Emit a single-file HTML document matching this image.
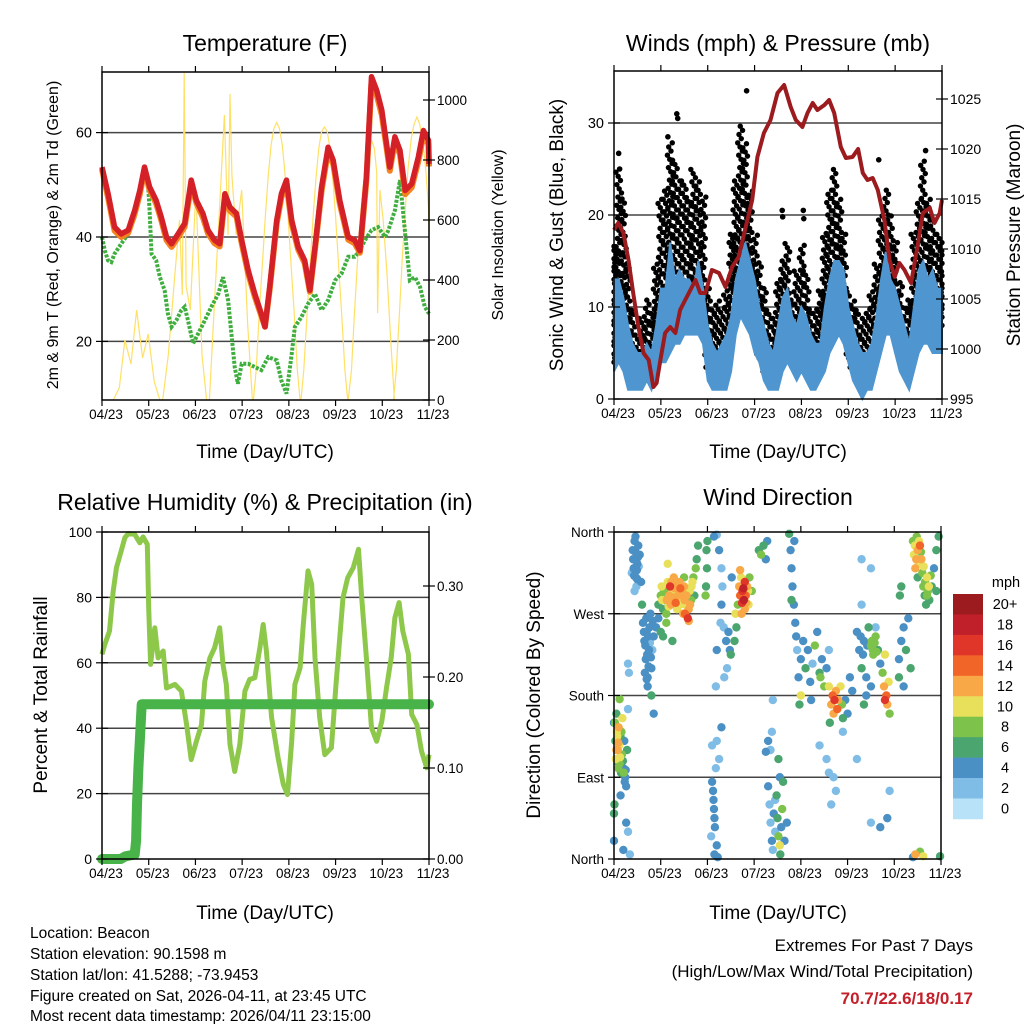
<!DOCTYPE html>
<html><head><meta charset="utf-8"><style>
html,body{margin:0;padding:0;background:#fff;}
svg{display:block;font-family:"Liberation Sans",sans-serif;}
</style></head><body>
<svg id="chart" width="1024" height="1024" viewBox="0 0 1024 1024">
<rect x="0" y="0" width="1024" height="1024" fill="#fff"/>
<g id="layer"></g>
<g font-size="23" text-anchor="middle" fill="#000">
<text x="265" y="51">Temperature (F)</text>
<text x="778" y="51">Winds (mph) &amp; Pressure (mb)</text>
<text x="265" y="510">Relative Humidity (%) &amp; Precipitation (in)</text>
<text x="778" y="505">Wind Direction</text>
</g>
<g font-size="19" text-anchor="middle">
<text x="265" y="458">Time (Day/UTC)</text>
<text x="778" y="458">Time (Day/UTC)</text>
<text x="265" y="919">Time (Day/UTC)</text>
<text x="778" y="919">Time (Day/UTC)</text>
<text transform="translate(58,235) rotate(-90)" font-size="16">2m &amp; 9m T (Red, Orange) &amp; 2m Td (Green)</text>
<text transform="translate(503,235) rotate(-90)" font-size="16">Solar Insolation (Yellow)</text>
<text transform="translate(563,235) rotate(-90)">Sonic Wind &amp; Gust (Blue, Black)</text>
<text transform="translate(1020,235) rotate(-90)">Station Pressure (Maroon)</text>
<text transform="translate(47,695) rotate(-90)">Percent &amp; Total Rainfall</text>
<text transform="translate(540,695) rotate(-90)">Direction (Colored By Speed)</text>
</g>
<g font-size="15.5">
<text x="30" y="938">Location: Beacon</text>
<text x="30" y="959">Station elevation: 90.1598 m</text>
<text x="30" y="980">Station lat/lon: 41.5288; -73.9453</text>
<text x="30" y="1001">Figure created on Sat, 2026-04-11, at 23:45 UTC</text>
<text x="30" y="1021">Most recent data timestamp: 2026/04/11 23:15:00</text>
</g>
<g font-size="17" text-anchor="end">
<text x="973" y="951">Extremes For Past 7 Days</text>
<text x="973" y="977">(High/Low/Max Wind/Total Precipitation)</text>
<text x="973" y="1004" font-weight="bold" fill="#c4202a">70.7/22.6/18/0.17</text>
</g>
</svg>
<script>
const xTickDays=[0,1,2,3,4,5,6,7];
const xTickLabels=['04/23','05/23','06/23','07/23','08/23','09/23','10/23','11/23'];
const tempTicks=[20,40,60];
const solarTicks=[0,200,400,600,800,1000];
const windTicks=[0,10,20,30];
const pressTicks=[995,1000,1005,1010,1015,1020,1025];
const rhTicks=[0,20,40,60,80,100];
const precipTicks=[0,0.1,0.2,0.3];
const precipTickLabels=['0.00','0.10','0.20','0.30'];
const dirTicks=[0,90,180,270,360];
const dirTickLabels=['North','East','South','West','North'];
const speedBins=[0,2,4,6,8,10,12,14,16,18,20];
const speedLabels=['0','2','4','6','8','10','12','14','16','18','20+'];
const speedColors=['#b7e2f8','#80bde6','#4a90c4','#4aa56e','#7dc24b','#e8e05a','#f9a848','#f26529','#e0362a','#c0202a','#9b1b1e'];

const tempDays=[0,.13,.27,.41,.56,.7,.81,.91,1.02,1.16,1.27,1.38,1.49,1.63,1.77,1.91,2.02,2.16,2.27,2.41,2.52,2.63,2.74,2.88,2.99,3.13,3.27,3.41,3.49,3.59,3.74,3.84,3.95,4.06,4.2,4.34,4.45,4.56,4.7,4.84,4.95,5.09,5.27,5.41,5.52,5.66,5.77,5.88,5.99,6.09,6.16,6.27,6.38,6.49,6.63,6.77,6.88,6.99,7];
const temp2m=[53.4,48.3,41.9,40.6,41.3,45.1,48.9,53.4,49.6,47,43.8,40,38.7,40.6,42.6,50.9,47,44.5,41.3,39.4,38.7,48.3,45.7,44.5,39.4,33.6,29.1,25.3,22.8,30.4,43.2,48.3,50.9,43.2,38.1,35.5,29.8,38.1,49.6,57.2,54.7,47,40,39.4,37.4,51.5,70.7,68.1,64.3,57.9,53.4,59.2,56.6,48.9,50.2,55.3,60.4,58.5,54];
const temp9m=[53,47.5,41.2,40,40.8,44.5,48.2,52.8,49,46.4,43.2,39.4,38.1,40,42,50.1,46.5,43.8,40.7,38.8,38.2,47.5,45,43.9,38.8,33,28.6,24.9,22.8,30,42.6,47.6,50.1,42.6,37.6,35,29.5,37.6,48.9,56.5,54,46.4,39.5,38.8,37,50.8,69.6,67.2,63.4,57.2,52.7,58.4,55.8,48.2,49.5,54.5,59.5,57.8,53.5];
const dewDays=[0,.06,.13,.2,.27,.41,.56,.7,.81,.91,.99,1.02,1.06,1.16,1.24,1.34,1.41,1.49,1.59,1.7,1.77,1.84,1.95,2.06,2.2,2.34,2.49,2.59,2.7,2.77,2.84,2.91,2.99,3.13,3.27,3.41,3.56,3.74,3.84,3.95,4.06,4.13,4.27,4.41,4.56,4.7,4.84,4.99,5.13,5.27,5.41,5.52,5.63,5.77,5.91,6.06,6.13,6.27,6.38,6.49,6.59,6.7,6.81,6.91,7];
const dewpoint=[40,37.4,35.5,35.2,36.8,38.7,40.6,43.8,48.3,52.1,49.6,45.1,36.8,35.5,32.3,29.8,25.3,22.8,24,26,26.6,24,19.6,21.5,24,26.6,29.1,32.3,27.9,21.5,15.1,11.9,15.7,15.7,15.1,14.5,17,16.4,12.5,10,17.6,22.8,24.7,27.2,29.1,26,27.9,31.7,33,36.2,36.2,37.4,39.4,41.3,41.9,40,41.3,45.1,50.9,40.6,31.7,32.3,30.4,26.6,25.3];
const solarDays=[.24,.37,.49,.62,.74,.87,.99,1.12,1.24, 1.3,1.42,1.55,1.66,1.72,1.76,1.8,1.89,2.01,2.14,2.24, 2.3,2.4,2.52,2.62,2.7,2.74,2.78,2.87,2.99,3.12,3.22, 3.24,3.3,3.37,3.44,3.5,3.56,3.62,3.68,3.74,3.8,3.86,3.92,3.98,4.04,4.11,4.18,4.24, 4.26,4.32,4.39,4.46,4.52,4.58,4.64,4.7,4.76,4.82,4.88,4.94,5.0,5.06,5.13,5.2,5.26, 5.27,5.34,5.4,5.46,5.52,5.59,5.65,5.71,5.77,5.83,5.88,5.9,5.95,6.02,6.1,6.18,6.26, 6.24,6.3,6.37,6.43,6.49,6.55,6.62,6.68,6.74,6.8,6.87,6.93,6.99,7];
const solarValues=[0,40,200,120,300,140,220,60,0, 0,150,400,600,350,1090,380,300,700,150,0, 0,300,650,950,550,1020,750,550,700,250,0, 0,100,300,470,620,750,850,905,925,905,850,750,620,470,300,100,0, 0,100,290,460,610,740,840,895,910,895,840,740,610,460,290,100,0, 0,100,280,440,590,710,800,850,865,840,760,290,700,600,420,200,0, 0,100,300,480,630,770,870,920,943,920,860,770,640,560];

const windDays=[0,.1,.2,.3,.4,.5,.6,.7,.8,.9,1,1.1,1.2,1.3,1.4,1.5,1.6,1.7,1.8,1.9,2,2.1,2.2,2.3,2.4,2.5,2.6,2.7,2.8,2.9,3,3.1,3.2,3.3,3.4,3.5,3.6,3.7,3.8,3.9,4,4.1,4.2,4.3,4.4,4.5,4.6,4.7,4.8,4.9,5,5.1,5.2,5.3,5.4,5.5,5.6,5.7,5.8,5.9,6,6.1,6.2,6.3,6.4,6.5,6.6,6.7,6.8,6.9,7];
const windLow=[3,4,3,1,1,1,1,2,1,3,4,4,5,6,6,7,7,7,7,6,2,1,1,1,1,3,7,9,8,7,5,4,2,1,1,1,3,4,3,2,3,2,1,1,2,3,5,6,7,6,4,2,1,0,1,1,3,5,7,7,5,3,2,1,3,5,6,6,5,5,5];
const windHigh=[13,13,11,8,6,5,5,6,5,8,12,12,17,13,14,13,13,12,15,12,8,6,5,6,7,9,13,15,17,15,13,10,8,6,5,8,11,12,9,8,10,9,7,6,6,10,13,15,15,14,10,8,6,5,5,6,9,13,16,13,12,10,8,6,10,14,15,13,14,12,12];
const gustLow=[4,8,6,3,2,2,2,4,3,7,10,10,13,12,12,12,12,11,11,8,3,2,3,4,5,8,12,13,12,10,7,4,3,2,2,4,6,7,4,4,5,4,3,3,5,9,11,11,10,8,4,3,2,2,3,4,7,10,11,10,8,5,4,4,8,10,11,10,8,8,8];
const gustHigh=[17,25,22,15,10,7,9,11,10,15,22,23,28,26,24,24,22,25,24,22,12,10,11,10,12,18,24,30,28,23,18,15,12,10,9,13,15,17,11,14,17,14,10,10,12,18,23,25,22,18,12,11,10,9,10,12,15,20,23,20,17,13,10,11,18,22,26,22,20,18,17];
const gustOutlierDays=[1.34,1.36,0.1,2.83,3.59,3.6,4.04,4.05,1.15,5.65,6.65,0.12];
const gustOutliers=[31,30.5,26.7,33.5,20.5,19.8,20.5,19.6,28.5,26,27,25];
const pressDays=[0,.09,.2,.31,.41,.52,.63,.74,.84,.91,.99,1.09,1.2,1.31,1.41,1.52,1.63,1.74,1.84,1.95,2.09,2.24,2.38,2.52,2.66,2.81,2.95,3.06,3.2,3.34,3.49,3.63,3.77,3.88,4.02,4.13,4.24,4.34,4.49,4.59,4.7,4.84,4.95,5.09,5.21,5.31,5.41,5.52,5.63,5.77,5.88,5.99,6.09,6.2,6.34,6.49,6.59,6.74,6.84,6.95,7];
const pressure=[1011.9,1012.6,1011.6,1008.9,1005.6,1002.2,999.6,998.9,996.2,996.6,998.9,1001.6,1002.2,1001.6,1003.9,1004.9,1005.9,1006.9,1005.6,1005.6,1007.9,1007.6,1006.2,1008.2,1009.2,1012.2,1014.9,1019.2,1021.6,1022.9,1025.6,1026.4,1024.2,1022.9,1022.2,1023.6,1024.6,1023.9,1024.4,1024.9,1023.6,1020.2,1019.1,1019.2,1020,1017.6,1016.9,1017.1,1015.9,1012.9,1008.9,1007.2,1008.6,1007.9,1006.6,1010.6,1013.6,1014.1,1012.6,1013.6,1014.9];

const rhDays=[0,.06,.16,.24,.31,.41,.49,.56,.7,.81,.88,.97,1,1.04,1.13,1.2,1.31,1.38,1.56,1.7,1.81,1.91,2.02,2.13,2.2,2.31,2.41,2.52,2.59,2.66,2.74,2.84,2.95,3.06,3.16,3.27,3.38,3.45,3.52,3.63,3.77,3.88,3.97,4.06,4.13,4.24,4.31,4.41,4.49,4.56,4.66,4.77,4.91,5.01,5.16,5.26,5.38,5.49,5.56,5.66,5.77,5.88,5.99,6.09,6.19,6.27,6.36,6.44,6.56,6.63,6.74,6.84,6.95,7];
const rhValues=[62.6,65.6,69.7,81.9,89.1,94.2,98.3,99.5,99.3,96.7,98.5,96.2,76.8,59.5,70.7,61.5,63.6,52.3,53.4,51.3,41.1,30.4,36,41.1,54.4,61.5,64.6,70.7,59.5,53.4,35,26.8,35,51.3,54.9,55.4,64.6,71.7,63.6,43.2,30.9,22.8,19.7,36,53.4,58.5,71.7,88.1,84,61.5,43.2,31.9,34,53.4,79.9,86,89.1,94.7,79.9,61.5,40.1,36,42.1,52.3,61.5,73.8,78.4,69.7,62.6,44.2,41.1,33,27.9,31.9];
const precipDays=[0,0.4,0.5,0.7,0.73,0.75,0.78,0.82,0.85,7];
const precipValues=[0,0,0.003,0.005,0.02,0.06,0.1,0.14,0.17,0.17];

const dirPoints=[[0.02,150,8],[0.03,130,6],[0.04,110,10],[0.05,160,6],[0.06,140,10],[0.08,120,12],[0.09,100,8],[0.1,145,12],[0.11,125,10],[0.12,105,8],[0.14,135,6],[0.15,95,6],[0.17,115,8],[0.18,155,10],[0.2,100,4],[0.22,130,4],[0.24,90,4],[0.26,80,4],[0.28,120,6],[0.3,165,2],[0.0,50,6],[0.0,20,4],[0.01,60,6],[0.14,70,4],[0.3,30,2],[0.34,5,2],[0.2,10,4],[0.26,40,4],[0.12,176,8],[0.0,150,4],
[0.05,120,12],[0.07,135,10],[0.09,128,12],[0.13,112,10],[0.16,140,8],[0.19,108,6],[0.21,95,8],[0.23,85,4],[0.25,98,4],[0.1,105,6],
[0.4,340,4],[0.42,320,4],[0.44,350,4],[0.45,330,4],[0.47,310,4],[0.5,325,4],[0.52,345,4],[0.48,300,2],[0.55,335,4],[0.38,315,2],[0.58,305,4],[0.44,295,2],
[0.41,330,4],[0.43,312,4],[0.46,338,4],[0.49,318,4],[0.51,332,4],[0.53,322,2],[0.46,355,4],[0.5,308,4],
[0.62,260,4],[0.65,240,4],[0.68,220,4],[0.7,250,4],[0.72,200,4],[0.75,230,4],[0.78,270,4],[0.8,210,4],[0.85,245,4],[0.9,255,4],[0.95,265,4],[0.72,190,4],[0.3,215,2],[0.32,205,2],[0.6,280,6],[0.82,230,2],[0.8,180,6],[0.85,160,4],
[0.64,250,4],[0.67,235,4],[0.69,265,4],[0.71,225,4],[0.73,245,4],[0.74,212,4],[0.76,255,4],[0.77,238,2],[0.79,222,4],[0.83,262,4],[0.66,205,4],[0.7,198,4],
[0.95,280,6],[1.0,290,8],[1.02,300,10],[1.05,275,6],[1.08,285,8],[1.1,295,6],[1.12,270,8],[1.15,305,10],[1.18,290,12],[1.2,300,16],[1.22,280,12],[1.25,295,10],[1.28,310,12],[1.3,285,10],[1.33,300,8],[1.35,275,10],[1.38,290,12],[1.4,305,12],[1.43,285,10],[1.45,295,8],[1.48,270,12],[1.5,300,12],[1.53,280,10],[1.55,290,12],[1.58,265,16],[1.6,275,12],[1.62,295,10],[1.65,285,8],[1.68,305,10],[1.7,310,8],[1.72,290,6],[1.75,320,8],[1.77,330,6],[1.8,345,6],[1.0,250,6],[1.05,245,6],[1.12,260,8],[1.15,325,10],[1.25,240,6],[1.32,282,14],[1.42,298,14],[1.52,270,14],[1.6,262,12],
[1.03,285,10],[1.07,295,8],[1.13,285,12],[1.17,278,10],[1.23,305,12],[1.27,288,12],[1.37,298,10],[1.41,280,10],[1.47,292,12],[1.51,285,12],[1.57,278,10],[1.63,280,12],[1.66,300,10],[1.5,310,8],[1.3,298,12],
[1.98,340,6],[1.99,320,6],[2.0,350,6],[1.97,300,6],[1.96,290,8],
[2.14,355,4],[2.2,357,2],[2.25,340,4],[2.3,320,2],[2.32,300,2],[2.3,280,4],[2.35,255,2],[2.4,240,4],[2.45,250,4],[2.48,230,4],[2.5,225,6],[2.42,210,2],[2.36,200,2],[2.52,310,4],[2.28,260,2],[2.2,230,4],[2.18,190,2],
[2.1,85,4],[2.12,75,4],[2.13,65,4],[2.14,55,4],[2.15,45,4],[2.16,35,4],[2.08,25,2],[2.2,15,4],[2.15,5,4],[2.22,2,4],[2.18,100,2],[2.1,125,2],[2.2,130,2],[2.25,110,2],[2.3,145,4],
[2.6,270,10],[2.65,280,8],[2.68,300,12],[2.7,290,14],[2.72,310,10],[2.75,295,16],[2.78,285,18],[2.8,305,16],[2.82,290,14],[2.85,300,12],[2.88,280,10],[2.9,310,8],[2.95,295,8],[2.62,255,6],[2.58,240,6],[2.7,318,12],[2.8,275,12],
[2.74,282,16],[2.77,298,18],[2.83,282,12],[2.87,295,10],[2.73,270,12],
[3.1,340,6],[3.15,335,8],[3.2,345,6],[3.25,330,4],[3.28,350,4],
[3.3,80,4],[3.33,60,2],[3.35,40,2],[3.38,20,4],[3.4,10,2],[3.42,50,4],[3.45,30,2],[3.48,70,6],[3.5,45,6],[3.52,25,8],[3.55,15,10],[3.56,5,6],[3.58,35,4],[3.6,55,8],[3.62,85,6],[3.65,20,4],[3.7,40,4],[3.3,130,4],[3.35,120,2],[3.38,140,2],[3.25,118,4],[3.4,175,2],[3.52,110,6],[3.55,90,4],[3.45,65,2],
[3.75,358,6],[3.78,340,4],[3.8,320,4],[3.82,300,4],[3.85,280,4],[3.88,260,4],[3.9,245,4],[3.92,230,2],[3.8,285,6],[3.86,350,4],
[3.95,200,4],[4.0,220,4],[4.05,240,4],[4.1,210,6],[4.15,230,4],[4.2,195,4],[4.25,215,2],[4.3,235,8],[4.35,250,4],[4.4,205,6],[4.45,220,4],[4.5,190,8],[4.55,210,4],[4.6,230,2],[4.0,180,10],[3.97,170,6],[4.22,175,4],[4.42,200,8],
[4.6,190,10],[4.65,170,12],[4.68,180,14],[4.7,160,12],[4.72,175,16],[4.75,185,12],[4.78,165,14],[4.8,175,12],[4.85,190,10],[4.88,170,8],[4.62,150,6],[4.9,155,6],[4.95,175,4],[5.0,160,4],[5.05,200,4],[5.1,185,4],
[4.4,125,2],[4.55,110,2],[4.6,95,2],[4.65,60,2],[4.7,90,2],[4.75,75,2],[4.9,140,2],[5.2,110,2],[5.5,40,2],[5.7,35,4],[5.9,75,2],[5.3,280,2],[5.3,330,2],[5.5,320,2],[5.85,45,4],
[5.2,250,4],[5.25,230,4],[5.3,210,6],[5.35,240,4],[5.4,200,4],[5.45,255,6],[5.5,235,8],[5.55,225,8],[5.6,245,8],[5.65,230,6],[5.7,215,4],[5.5,190,4],[5.4,180,4],[5.35,170,6],[5.6,255,2],
[5.52,240,8],[5.54,230,8],[5.58,238,8],[5.62,228,8],[5.28,245,4],[5.33,225,4],[5.42,235,4],
[5.78,190,12],[5.8,175,16],[5.83,180,14],[5.85,170,12],[5.88,195,10],[5.9,160,8],[5.75,205,8],[5.8,225,10],
[6.1,220,4],[6.15,240,4],[6.2,255,4],[6.25,230,6],[6.3,265,4],[6.35,210,6],[6.1,200,6],[6.2,190,4],[6.15,300,6],[6.12,290,6],
[6.4,350,8],[6.42,335,10],[6.45,320,12],[6.48,355,8],[6.5,340,12],[6.52,325,10],[6.55,345,14],[6.58,330,12],[6.6,315,8],[6.62,300,8],[6.65,290,6],[6.68,280,6],[6.7,310,10],[6.72,295,8],[6.75,285,6],[6.8,300,6],[6.85,320,4],[6.9,340,6],[6.95,355,6],[6.5,310,6],[6.9,295,6],[6.45,5,12],[6.55,8,8],[6.62,3,10],[6.4,2,4],[6.98,3,6],
[6.44,345,10],[6.47,330,12],[6.53,350,10],[6.57,338,8],[6.63,322,10],[6.66,305,8],[6.7,290,8],[6.74,300,10],[6.78,312,8]];

const NS='http://www.w3.org/2000/svg';
const layer=document.getElementById('layer');
function el(tag,parent){const e=document.createElementNS(NS,tag);(parent||layer).appendChild(e);return e;}
function lin(d0,d1,r0,r1){return v=>r0+(v-d0)/(d1-d0)*(r1-r0);}

const P1={x0:102,x1:429,y0:72,y1:400};
const P2={x0:614,x1:942,y0:71,y1:399};
const P3={x0:102,x1:429,y0:532,y1:859};
const P4={x0:614,x1:941,y0:532,y1:859};
const x1s=lin(0,7,P1.x0,P1.x1), x2s=lin(0,7,P2.x0,P2.x1), x3s=lin(0,7,P3.x0,P3.x1), x4s=lin(0,7,P4.x0,P4.x1);
const tempY=lin(40,60,237,132.6), solarY=lin(0,1000,400,100);
const windY=lin(0,10,399,307), pressY=lin(995,1025,399,99);
const rhY=lin(0,100,859,532), precipY=lin(0,0.1,859,768);
const dirY=lin(0,360,859,532);

function poly(xs,ys,xf,yf){return xs.map((d,i)=>xf(d).toFixed(1)+','+yf(ys[i]).toFixed(1)).join(' ');}

function grid(P,vals,yf,name){
  vals.forEach(v=>{const y=yf(v); if(y<=P.y0+1||y>=P.y1-1) return;
    const l=el('line'); l.setAttribute('x1',P.x0); l.setAttribute('x2',P.x1); l.setAttribute('y1',y); l.setAttribute('y2',y);
    l.setAttribute('stroke','#444'); l.setAttribute('stroke-width','1.5');
     });
}
function frame(P,xs,name){
  const r=el('rect'); r.setAttribute('x',P.x0); r.setAttribute('y',P.y0); r.setAttribute('width',P.x1-P.x0); r.setAttribute('height',P.y1-P.y0);
  r.setAttribute('fill','none'); r.setAttribute('stroke','#000'); r.setAttribute('stroke-width','1.5');
   
  xTickDays.forEach((d,i)=>{const x=xs(d);
    [[P.y1,P.y1+6],[P.y0,P.y0-6]].forEach(s=>{const t=el('line'); t.setAttribute('x1',x); t.setAttribute('x2',x); t.setAttribute('y1',s[0]); t.setAttribute('y2',s[1]); t.setAttribute('stroke','#000'); t.setAttribute('stroke-width','1.2');
       });
    const tx=el('text'); tx.setAttribute('x',x+4); tx.setAttribute('y',P.y1+19); tx.setAttribute('font-size','13.5'); tx.setAttribute('text-anchor','middle'); tx.textContent=xTickLabels[i];
     });
}
function yAxis(P,vals,labels,yf,side,name,fs){
  vals.forEach((v,i)=>{const y=yf(v);
    const t=el('line'); const x=side==='l'?P.x0:P.x1; t.setAttribute('x1',x-6); t.setAttribute('x2',x+6); t.setAttribute('y1',y); t.setAttribute('y2',y); t.setAttribute('stroke','#000'); t.setAttribute('stroke-width','1.2');
     
    const tx=el('text'); tx.setAttribute('font-size',fs||'14.5'); tx.setAttribute('y',y+5);
    if(side==='l'){tx.setAttribute('x',P.x0-10); tx.setAttribute('text-anchor','end');} else {tx.setAttribute('x',P.x1+8);}
    tx.textContent=labels[i];
     });
}

// Panel 1 temperature
grid(P1,tempTicks,tempY,'temp-gridline');
let s=el('polyline'); s.setAttribute('points',poly(solarDays,solarValues,x1s,solarY)); s.setAttribute('fill','none'); s.setAttribute('stroke','#ffe066'); s.setAttribute('stroke-width','1.2');
 
s=el('polyline'); s.setAttribute('points',poly(dewDays,dewpoint,x1s,tempY)); s.setAttribute('fill','none'); s.setAttribute('stroke','#3fae3f'); s.setAttribute('stroke-width','4'); s.setAttribute('stroke-dasharray','3 1.5');
 
s=el('polyline'); s.setAttribute('points',poly(tempDays,temp9m,x1s,tempY)); s.setAttribute('fill','none'); s.setAttribute('stroke','#f58220'); s.setAttribute('stroke-width','6'); s.setAttribute('stroke-linejoin','round');
 
s=el('polyline'); s.setAttribute('points',poly(tempDays,temp2m,x1s,tempY)); s.setAttribute('fill','none'); s.setAttribute('stroke','#d42027'); s.setAttribute('stroke-width','5.5'); s.setAttribute('stroke-linejoin','round');
 
frame(P1,x1s,'temperature');
yAxis(P1,tempTicks,tempTicks.map(String),tempY,'l','temp');
yAxis(P1,solarTicks,solarTicks.map(String),solarY,'r','solar','13.5');

// Panel 2 winds
grid(P2,windTicks,windY,'wind-gridline');
const gust=el('g');  
windDays.forEach((d,i)=>{let k=0; for(let v=gustLow[i]; v<=gustHigh[i]; v+=0.45,k++){
  const off=(((k*37+i*11)%23)/22-0.5)*0.12;
  const c=el('circle',gust); c.setAttribute('cx',x2s(Math.min(7,Math.max(0,d+off)))); c.setAttribute('cy',windY(v)); c.setAttribute('r','2.7'); c.setAttribute('fill','#000');
   }});
gustOutlierDays.forEach((d,i)=>{const c=el('circle',gust); c.setAttribute('cx',x2s(d)); c.setAttribute('cy',windY(gustOutliers[i])); c.setAttribute('r','2.8'); c.setAttribute('fill','#000');
   });
s=el('polygon'); s.setAttribute('points',poly(windDays,windHigh,x2s,windY)+' '+poly(windDays.slice().reverse(),windLow.slice().reverse(),x2s,windY)); s.setAttribute('fill','#4f96d0'); s.setAttribute('stroke','#4f96d0'); s.setAttribute('stroke-width','2');
 
s=el('polyline'); s.setAttribute('points',poly(pressDays,pressure,x2s,pressY)); s.setAttribute('fill','none'); s.setAttribute('stroke','#9b1b1e'); s.setAttribute('stroke-width','4'); s.setAttribute('stroke-linejoin','round');
 
frame(P2,x2s,'winds');
yAxis(P2,windTicks,windTicks.map(String),windY,'l','wind');
yAxis(P2,pressTicks,pressTicks.map(String),pressY,'r','pressure','14');

// Panel 3 humidity
grid(P3,rhTicks,rhY,'rh-gridline');
s=el('polyline'); s.setAttribute('points',poly(rhDays,rhValues,x3s,rhY)); s.setAttribute('fill','none'); s.setAttribute('stroke','#8dc84b'); s.setAttribute('stroke-width','5'); s.setAttribute('stroke-linejoin','round');
 
s=el('polyline'); s.setAttribute('points',poly(precipDays,precipValues,x3s,precipY)); s.setAttribute('fill','none'); s.setAttribute('stroke','#47b348'); s.setAttribute('stroke-width','10'); s.setAttribute('stroke-linecap','round'); s.setAttribute('stroke-linejoin','round');
 
frame(P3,x3s,'humidity');
yAxis(P3,rhTicks,rhTicks.map(String),rhY,'l','rh','14');
yAxis(P3,precipTicks,precipTickLabels,precipY,'r','precip','13.5');

// Panel 4 direction
grid(P4,dirTicks,dirY,'direction-gridline');
function colorFor(sp){let k=0; speedBins.forEach((b,i)=>{if(sp>=b) k=i;}); return speedColors[k];}
const dots=el('g');  
dirPoints.slice().sort((a,b)=>a[2]-b[2]).forEach(p=>{const c=el('circle',dots); c.setAttribute('cx',x4s(p[0])); c.setAttribute('cy',dirY(p[1])); c.setAttribute('r','4.2'); c.setAttribute('fill',colorFor(p[2]));
   });
frame(P4,x4s,'direction');
yAxis(P4,dirTicks,dirTickLabels,dirY,'l','direction','13.5');

// colorbar
const cb=el('g');  
const cbTop=594, cbH=20.45;
speedColors.slice().reverse().forEach((col,i)=>{const r=el('rect',cb); r.setAttribute('x',953); r.setAttribute('y',cbTop+i*cbH); r.setAttribute('width',30); r.setAttribute('height',cbH+0.3); r.setAttribute('fill',col);
   
  const t=el('text',cb); t.setAttribute('x',1005); t.setAttribute('y',cbTop+i*cbH+15); t.setAttribute('font-size','14.5'); t.setAttribute('text-anchor','middle'); t.textContent=speedLabels[speedLabels.length-1-i];
   });
const mt=el('text',cb); mt.setAttribute('x',1006); mt.setAttribute('y',587); mt.setAttribute('font-size','14.5'); mt.setAttribute('text-anchor','middle'); mt.textContent='mph';
 
</script>
</body></html>
